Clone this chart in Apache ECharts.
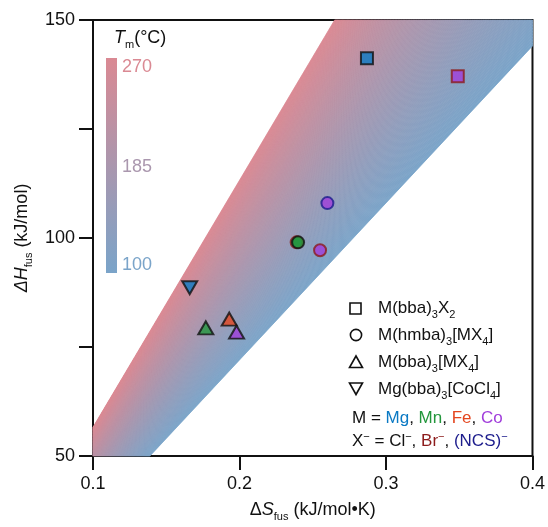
<!DOCTYPE html>
<html><head><meta charset="utf-8">
<script src="https://cdn.jsdelivr.net/npm/echarts@6/dist/echarts.min.js"></script>
<style>html,body{margin:0;padding:0;background:#fff}#c{width:548px;height:527px}</style>
</head><body><div id="c"></div>
<script>
// ---------- data ----------
const xTicks = [0.1, 0.2, 0.3, 0.4];
const yTicks = [50, 75, 100, 125, 150];
const yLabelled = [50, 100, 150];
const bandRangeC = [87, 293];          // melting-temperature band (°C), lines ΔH = T·ΔS
const colorbarLabels = [270, 185, 100];

const metalColor = { Mg: '#0a79c4', Mn: '#23963c', Fe: '#e4461f', Co: '#a03ddb' };
const anionColor = { Cl: '#111111', Br: '#8c1b1b', NCS: '#1c1c8c' };

// M(bba)3X2  (squares)
const sqS = [0.287, 0.349];
const sqH = [141.2, 137.1];
const sqM = ['Mg', 'Co'];
const sqX = ['Cl', 'Br'];
// M(hmba)3[MX4]  (circles)
const ciS = [0.260, 0.239, 0.240, 0.255];
const ciH = [108.0, 99.0, 99.0, 97.2];
const ciM = ['Co', 'Mn', 'Mn', 'Co'];
const ciX = ['NCS', 'Br', 'Cl', 'Br'];
// M(bba)3[MX4]  (up triangles)
const trS = [0.177, 0.193, 0.198];
const trH = [79.4, 81.4, 78.4];
const trM = ['Mn', 'Fe', 'Co'];
const trX = ['Cl', 'Cl', 'Cl'];
// Mg(bba)3[CoCl4]  (down triangle)
const dtS = [0.166];
const dtH = [88.6];
const dtM = ['Mg'];
const dtX = ['Cl'];

// ---------- helpers ----------
const PINK = [218, 137, 147], BLUE = [122, 164, 201];
function mix(t) {
  const c = BLUE.map((b, i) => Math.round(b + (PINK[i] - b) * t));
  return 'rgb(' + c.join(',') + ')';
}
function clipEdge(pts, inside, inter) {
  const out = [];
  for (let i = 0; i < pts.length; i++) {
    const cur = pts[i], prev = pts[(i + pts.length - 1) % pts.length];
    const ci = inside(cur), pi = inside(prev);
    if (ci) { if (!pi) out.push(inter(prev, cur)); out.push(cur); }
    else if (pi) out.push(inter(prev, cur));
  }
  return out;
}
const ix = (a, b, x) => [x, a[1] + (b[1] - a[1]) * (x - a[0]) / (b[0] - a[0])];
const iy = (a, b, y) => [a[0] + (b[0] - a[0]) * (y - a[1]) / (b[1] - a[1]), y];
function clipRect(pts, x0, x1, y0, y1) {
  pts = clipEdge(pts, p => p[0] >= x0, (a, b) => ix(a, b, x0));
  pts = clipEdge(pts, p => p[0] <= x1, (a, b) => ix(a, b, x1));
  pts = clipEdge(pts, p => p[1] >= y0, (a, b) => iy(a, b, y0));
  pts = clipEdge(pts, p => p[1] <= y1, (a, b) => iy(a, b, y1));
  return pts;
}
const N = 120;
const slices = [];
for (let i = 0; i < N; i++) slices.push([0.25, 100, i]);

function pts(S, H, M, X) {
  return S.map((s, i) => ({ value: [s, H[i]], itemStyle: { color: metalColor[M[i]], borderColor: anionColor[X[i]] } }));
}

const FONT = 'Liberation Sans, Arial, sans-serif';
function tok(fs, color, extra) {
  return Object.assign({ fontSize: fs, fontFamily: FONT, color: color, fill: color, lineHeight: 20 }, extra || {});
}
function richBase(fs, color) {
  return {
    n: tok(fs, color),
    i: tok(fs, color, { fontStyle: 'italic' }),
    s: tok(11, color, { verticalAlign: 'bottom', lineHeight: 24 }),
    p: tok(11, color, { verticalAlign: 'top', lineHeight: 20 })
  };
}

const chart = echarts.init(document.getElementById('c'), null, { renderer: 'canvas' });
const option = {
  animation: false,
  grid: { left: 93, right: 11, top: 20, bottom: 64, show: true, borderColor: '#111', borderWidth: 2, backgroundColor: 'transparent' },
  xAxis: {
    type: 'value', min: 0.1, max: 0.4, interval: 0.1,
    axisLine: { lineStyle: { color: '#111', width: 2 } },
    axisTick: { show: true, length: 14, lineStyle: { color: '#111', width: 2 } },
    splitLine: { show: false },
    axisLabel: { margin: 19, color: '#111', fontSize: 18, fontFamily: FONT, formatter: v => v.toFixed(1) },
    name: '{n|Δ}{i|S}{s|fus}{n| (kJ/mol•K)}', nameLocation: 'middle', nameGap: 42,
    nameTextStyle: { rich: richBase(18, '#111') }
  },
  yAxis: {
    type: 'value', min: 50, max: 150, interval: 25,
    axisLine: { lineStyle: { color: '#111', width: 2 } },
    axisTick: { show: true, length: 14, lineStyle: { color: '#111', width: 2 } },
    splitLine: { show: false },
    axisLabel: { margin: 18, color: '#111', fontSize: 18, fontFamily: FONT, formatter: v => yLabelled.includes(v) ? String(v) : '' },
    name: '{i|ΔH}{s|fus}{n| (kJ/mol)}', nameLocation: 'middle', nameGap: 56, nameRotate: 90,
    nameTextStyle: { rich: richBase(18, '#111') }
  },
  series: [
    {
      type: 'custom', coordinateSystem: 'cartesian2d', data: slices, encode: { x: 0, y: 1 }, z: 1, silent: true,
      renderItem: function (params, api) {
        const i = api.value(2);
        const Ta = bandRangeC[0] + (bandRangeC[1] - bandRangeC[0]) * i / N;
        const Tb = bandRangeC[0] + (bandRangeC[1] - bandRangeC[0]) * (i + 1) / N;
        const ka = Ta + 273.15, kb = Tb + 273.15;
        let poly = clipRect([[0, 0], [1, ka], [1, kb]], xTicks[0], xTicks[xTicks.length - 1], yTicks[0], yTicks[yTicks.length - 1]);
        if (poly.length < 3) return null;
        const px = poly.map(p => api.coord(p));
        const col = mix((i + 0.5) / N);
        return { type: 'polygon', shape: { points: px }, style: { fill: col, stroke: col, lineWidth: 0.8 } };
      }
    },
    { type: 'scatter', symbol: 'rect', symbolSize: 12, z: 5, itemStyle: { borderWidth: 2 }, data: pts(sqS, sqH, sqM, sqX) },
    { type: 'scatter', symbol: 'circle', symbolSize: 12, z: 5, itemStyle: { borderWidth: 2 }, data: pts(ciS, ciH, ciM, ciX) },
    { type: 'scatter', symbol: 'triangle', symbolSize: [15, 13], z: 5, itemStyle: { borderWidth: 2 }, data: pts(trS, trH, trM, trX) },
    { type: 'scatter', symbol: 'triangle', symbolRotate: 180, symbolSize: [15, 13], z: 5, itemStyle: { borderWidth: 2 }, data: pts(dtS, dtH, dtM, dtX) }
  ],
  graphic: [
    // colour bar
    { type: 'rect', left: 106, top: 58, shape: { width: 11, height: 215 }, z: 10,
      style: { fill: new echarts.graphic.LinearGradient(0, 0, 0, 1, [{ offset: 0, color: mix(1) }, { offset: 1, color: mix(0) }]) } },
    { type: 'text', x: 114, y: 38, z: 10, style: { text: '{i|T}{s|m}{n|(°C)}', rich: richBase(18, '#111'), verticalAlign: 'middle' } },
    { type: 'text', x: 122, y: 67, z: 10, style: { text: String(colorbarLabels[0]), font: '18px ' + FONT, fill: mix(1), verticalAlign: 'middle' } },
    { type: 'text', x: 122, y: 167, z: 10, style: { text: String(colorbarLabels[1]), font: '18px ' + FONT, fill: mix(0.5), verticalAlign: 'middle' } },
    { type: 'text', x: 122, y: 265, z: 10, style: { text: String(colorbarLabels[2]), font: '18px ' + FONT, fill: mix(0), verticalAlign: 'middle' } },
    // legend symbols
    { type: 'rect', x: 350, y: 303, shape: { width: 11, height: 11 }, z: 10, style: { fill: 'none', stroke: '#111', lineWidth: 1.6 } },
    { type: 'circle', shape: { cx: 356, cy: 335, r: 5.6 }, z: 10, style: { fill: 'none', stroke: '#111', lineWidth: 1.6 } },
    { type: 'polygon', shape: { points: [[349.5, 367.5], [362.5, 367.5], [356, 356]] }, z: 10, style: { fill: 'none', stroke: '#111', lineWidth: 1.6 } },
    { type: 'polygon', shape: { points: [[349.5, 383], [362.5, 383], [356, 394.5]] }, z: 10, style: { fill: 'none', stroke: '#111', lineWidth: 1.6 } },
    // legend texts
    { type: 'text', x: 378, y: 308, z: 10, style: { text: '{n|M(bba)}{s|3}{n|X}{s|2}', rich: richBase(17, '#111'), verticalAlign: 'middle' } },
    { type: 'text', x: 378, y: 335, z: 10, style: { text: '{n|M(hmba)}{s|3}{n|[MX}{s|4}{n|]}', rich: richBase(17, '#111'), verticalAlign: 'middle' } },
    { type: 'text', x: 378, y: 362, z: 10, style: { text: '{n|M(bba)}{s|3}{n|[MX}{s|4}{n|]}', rich: richBase(17, '#111'), verticalAlign: 'middle' } },
    { type: 'text', x: 378, y: 389, z: 10, style: { text: '{n|Mg(bba)}{s|3}{n|[CoCl}{s|4}{n|]}', rich: richBase(17, '#111'), verticalAlign: 'middle' } },
    { type: 'text', x: 352, y: 418, z: 10, style: {
        text: '{n|M = }{mg|Mg}{n|, }{mn|Mn}{n|, }{fe|Fe}{n|, }{co|Co}', verticalAlign: 'middle',
        rich: Object.assign(richBase(17, '#111'), {
          mg: tok(17, metalColor.Mg), mn: tok(17, metalColor.Mn), fe: tok(17, metalColor.Fe), co: tok(17, metalColor.Co) }) } },
    { type: 'text', x: 352, y: 441, z: 10, style: {
        text: '{n|X}{p|−}{n| = Cl}{p|−}{n|, }{br|Br}{pbr|−}{n|, }{ncs|(NCS)}{pncs|−}', verticalAlign: 'middle',
        rich: Object.assign(richBase(17, '#111'), {
          br: tok(17, anionColor.Br),
          pbr: tok(11, anionColor.Br, { verticalAlign: 'top' }),
          ncs: tok(17, anionColor.NCS),
          pncs: tok(11, anionColor.NCS, { verticalAlign: 'top' }) }) } }
  ]
};
chart.setOption(option);
</script></body></html>
